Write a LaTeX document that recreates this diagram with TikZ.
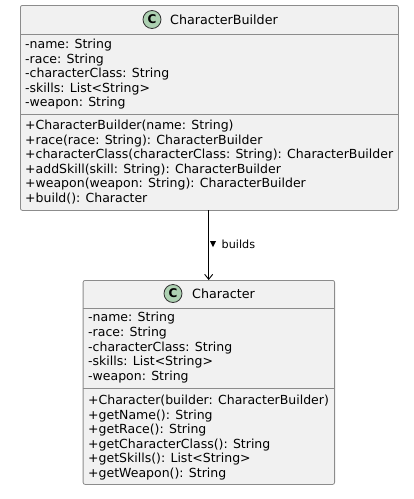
\documentclass[tikz,border=0pt]{standalone}
\usepackage{fontspec}
\setmainfont{DejaVu Sans}
\usetikzlibrary{arrows.meta}
\definecolor{boxfill}{HTML}{F1F1F1}
\definecolor{boxline}{HTML}{8C8C8C}
\definecolor{cfill}{HTML}{ADD1B2}
\definecolor{txt}{HTML}{000000}
\begin{document}
\begin{tikzpicture}[x=1pt,y=-1pt,
  classbox/.style={draw=boxline, fill=boxfill, line width=0.8pt, rounded corners=2pt, inner sep=0pt, anchor=north west},
  sepline/.style={draw=boxline, line width=0.8pt},
  member/.style={anchor=west, inner sep=0pt, font=\fontsize{12.5}{14}\selectfont, text=txt},
  ctitle/.style={anchor=west, inner sep=0pt, font=\fontsize{12.7}{14}\selectfont},
  cicon/.style={circle, draw=black!80, fill=cfill, line width=0.8pt, minimum size=18pt, inner sep=0pt, font=\fontsize{12}{13}\selectfont\bfseries},
  rel/.style={draw=black, line width=0.9pt, -{Straight Barb[length=5pt,width=8pt]}},
  rellabel/.style={anchor=west, inner sep=0pt, font=\fontsize{11.2}{13}\selectfont}]
\useasboundingbox (0,0) rectangle (414,499);
% CharacterBuilder
\node[classbox, minimum width=378pt, minimum height=205pt] (cb) at (20,5) {};
\draw[sepline] (20,34) -- (398,34);
\draw[sepline] (20,114) -- (398,114);
\node[cicon] (cbicon) at (152,19.5) {C};
\node[ctitle] (cbtitle) at (170,20) {CharacterBuilder};
\node[member] (cba1) at (25,45) {-name: String};
\node[member] (cba2) at (25,59.6) {-race: String};
\node[member] (cba3) at (25,74.2) {-characterClass: String};
\node[member] (cba4) at (25,88.8) {-skills: List<String>};
\node[member] (cba5) at (25,103.4) {-weapon: String};
\node[member] (cbm1) at (25,126) {+CharacterBuilder(name: String)};
\node[member] (cbm2) at (25,140.6) {+race(race: String): CharacterBuilder};
\node[member] (cbm3) at (25,155.2) {+characterClass(characterClass: String): CharacterBuilder};
\node[member] (cbm4) at (25,169.8) {+addSkill(skill: String): CharacterBuilder};
\node[member] (cbm5) at (25,184.4) {+weapon(weapon: String): CharacterBuilder};
\node[member] (cbm6) at (25,199) {+build(): Character};
% Character
\node[classbox, minimum width=251.5pt, minimum height=204pt] (ch) at (82.7,280) {};
\draw[sepline] (82.7,308) -- (334.2,308);
\draw[sepline] (82.7,388) -- (334.2,388);
\node[cicon] (chicon) at (173,293.5) {C};
\node[ctitle] (chtitle) at (192,294) {Character};
\node[member] (cha1) at (88,318.5) {-name: String};
\node[member] (cha2) at (88,333.1) {-race: String};
\node[member] (cha3) at (88,347.7) {-characterClass: String};
\node[member] (cha4) at (88,362.3) {-skills: List<String>};
\node[member] (cha5) at (88,376.9) {-weapon: String};
\node[member] (chm1) at (88,401) {+Character(builder: CharacterBuilder)};
\node[member] (chm2) at (88,415.6) {+getName(): String};
\node[member] (chm3) at (88,430.2) {+getRace(): String};
\node[member] (chm4) at (88,444.8) {+getCharacterClass(): String};
\node[member] (chm5) at (88,459.4) {+getSkills(): List<String>};
\node[member] (chm6) at (88,474) {+getWeapon(): String};
% relation
\coordinate (a1) at (208.7,210);
\coordinate (a2) at (208.7,280);
\draw[rel] (a1) -- (a2);
\fill (210,241) -- (216,241) -- (213,247) -- cycle;
\node[rellabel] (lbl) at (221.5,244) {builds};
\end{tikzpicture}
\end{document}
